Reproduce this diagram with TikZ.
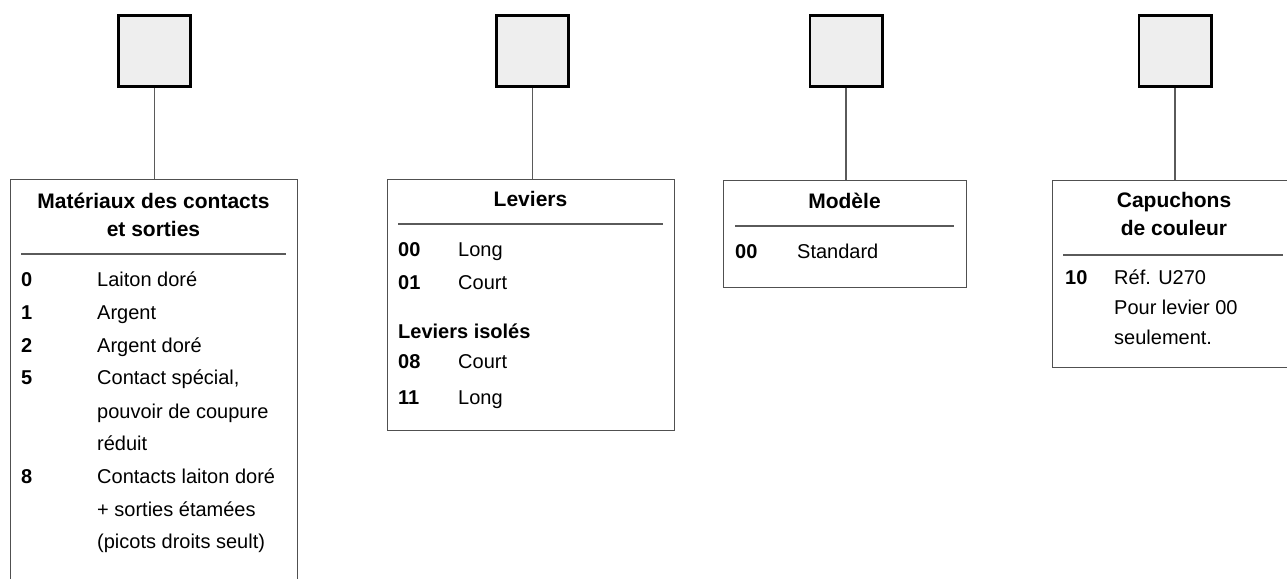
\documentclass[tikz,border=0pt]{standalone}
\usepackage{fontspec}
\setmainfont{Liberation Sans}
\definecolor{sqfill}{HTML}{EEEEEE}
\definecolor{boxgray}{HTML}{505050}
\definecolor{linegray}{HTML}{5A5A5A}
\newcommand\txtf{\fontsize{20bp}{30bp}\selectfont}
\newcommand\numf{\fontsize{20bp}{30bp}\selectfont\bfseries}
\newcommand\ttlf{\fontsize{21bp}{28bp}\selectfont\bfseries}
\tikzset{
  sq/.style={draw=black, line width=2.7bp, fill=sqfill, minimum width=72.3bp, minimum height=71.3bp, inner sep=0pt},
  panel/.style={draw=boxgray, line width=1.3bp, inner sep=0pt, anchor=north west},
  conn/.style={draw=linegray, line width=1.4bp},
  rulel/.style={draw=linegray, line width=1.1bp},
  num/.style={anchor=base west, font=\numf, inner sep=0pt},
  txt/.style={anchor=base west, font=\txtf, inner sep=0pt},
  ttl/.style={anchor=base, font=\ttlf, inner sep=0pt, align=center},
}
\begin{document}
\begin{tikzpicture}[x=1bp,y=-1bp]
\useasboundingbox[fill=white] (0,0) rectangle (1287,579);
% squares
\node[sq] (s1) at (154.5,51) {};
\node[sq] (s2) at (532.5,51) {};
\node[sq] (s3) at (846,51) {};
\node[sq] (s4) at (1175,51) {};
% panels
\node[panel, minimum width=287bp, minimum height=441bp] (p1) at (10,179) {};
\node[panel, minimum width=287bp, minimum height=251bp] (p2) at (387,179) {};
\node[panel, minimum width=243bp, minimum height=107bp] (p3) at (723,180) {};
\node[panel, minimum width=244bp, minimum height=187bp] (p4) at (1052,180) {};
% connectors
\draw[conn] (s1.south) -- (s1.south |- p1.north);
\draw[conn] (s2.south) -- (s2.south |- p2.north);
\draw[conn] (s3.south) -- (s3.south |- p3.north);
\draw[conn] (s4.south) -- (s4.south |- p4.north);
% panel 1
\node[ttl] (t1) at (153.5,237) {Matériaux des contacts\\et sorties};
\coordinate (r1a) at (21,254); \coordinate (r1b) at (286,254);
\draw[rulel] (r1a) -- (r1b);
\node[num] (n10) at (21,287) {0};   \node[txt] (x10) at (97,287) {Laiton doré};
\node[num] (n11) at (21,320) {1};   \node[txt] (x11) at (97,320) {Argent};
\node[num] (n12) at (21,353) {2};   \node[txt] (x12) at (97,353) {Argent doré};
\node[num] (n15) at (21,385) {5};   \node[txt] (x15) at (97,385) {Contact spécial,};
\node[txt] (x15b) at (97,418) {pouvoir de coupure};
\node[txt] (x15c) at (97,450) {réduit};
\node[num] (n18) at (21,483) {8};   \node[txt] (x18) at (97,483) {Contacts laiton doré};
\node[txt] (x18b) at (97,516) {+ sorties étamées};
\node[txt] (x18c) at (97,548) {(picots droits seult)};
% panel 2
\node[ttl] (t2) at (530.5,207) {Leviers};
\coordinate (r2a) at (398,224); \coordinate (r2b) at (663,224);
\draw[rulel] (r2a) -- (r2b);
\node[num] (n200) at (398,257) {00}; \node[txt] (x200) at (458,257) {Long};
\node[num] (n201) at (398,290) {01}; \node[txt] (x201) at (458,290) {Court};
\node[num] (t2b) at (398,339) {Leviers isolés};
\node[num] (n208) at (398,369) {08}; \node[txt] (x208) at (458,369) {Court};
\node[num] (n211) at (398,404) {11}; \node[txt] (x211) at (458,404) {Long};
% panel 3
\node[ttl] (t3) at (844.5,209) {Modèle};
\coordinate (r3a) at (735,226); \coordinate (r3b) at (954,226);
\draw[rulel] (r3a) -- (r3b);
\node[num] (n300) at (735,259) {00}; \node[txt] (x300) at (797,259) {Standard};
% panel 4
\node[ttl] (t4) at (1174,236) {Capuchons\\de couleur};
\coordinate (r4a) at (1063,255); \coordinate (r4b) at (1283,255);
\draw[rulel] (r4a) -- (r4b);
\node[num] (n410) at (1065,285) {10}; \node[txt] (x410) at (1114,285) {Réf. U270};
\node[txt] (x410b) at (1114,315) {Pour levier 00};
\node[txt] (x410c) at (1114,345) {seulement.};
\end{tikzpicture}
\end{document}
